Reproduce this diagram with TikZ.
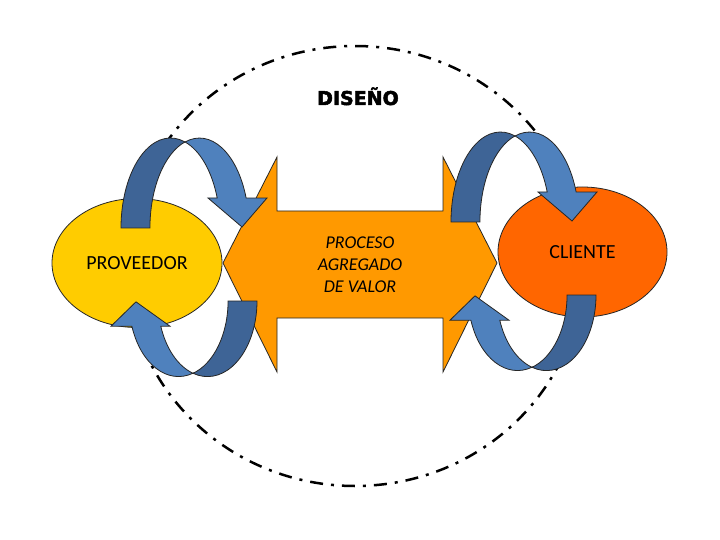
\documentclass[tikz,border=0pt]{standalone}
\usepackage{fontspec}
\setmainfont{Carlito}
\newfontfamily\titlefont{DejaVu Sans}[BoldFeatures={FakeBold=2.5}]
\usetikzlibrary{shapes.geometric}
\definecolor{amarillo}{HTML}{FFCC00}
\definecolor{naranja}{HTML}{FF6600}
\definecolor{naranjaclaro}{HTML}{FF9900}
\definecolor{azuloscuro}{HTML}{3E6496}
\definecolor{azulclaro}{HTML}{4F81BD}

\begin{document}
\begin{tikzpicture}[x=1pt,y=-1pt,
  darkband/.style={fill=azuloscuro,draw=black!85,line width=0.8pt},
  lightband/.style={fill=azulclaro,draw=black!85,line width=0.8pt},
  curvarrow/.pic={
    \draw[darkband] (-49.5,0) arc[start angle=180,end angle=287,x radius=49.5,y radius=90]
      arc[start angle=253,end angle=180,x radius=49.5,y radius=90] -- cycle;
    \draw[lightband] (14.5,-86) arc[start angle=253,end angle=340.5,x radius=49.5,y radius=90]
      -- (96.5,-30) -- (71.5,-1) -- (37.5,-30) -- (46.7,-30)
      arc[start angle=340.5,end angle=287,x radius=49.5,y radius=90] -- cycle;
  }]
\useasboundingbox (0,0) rectangle (720,540);
\fill[white] (0,0) rectangle (720,540);
% design boundary
\draw[line width=2.5pt,dash pattern=on 13pt off 8pt on 3pt off 8pt] (355,266) ellipse[x radius=228,y radius=220];
\node[font=\titlefont\bfseries\fontsize{19}{23}\selectfont,anchor=base] (diseno) at (358,105) {DISEÑO};

% value-added process
\draw[fill=naranjaclaro,draw=black!85,line width=0.8pt] (223,263) -- (277,157) -- (277,211) -- (443,211) -- (443,157) -- (497,263)
  -- (443,372) -- (443,318) -- (277,318) -- (277,372) -- cycle;
\node[font=\itshape\fontsize{18}{22}\selectfont,align=center] (proceso) at (360,265) {PROCESO\\AGREGADO\\DE VALOR};

% supplier and customer
\node[ellipse,fill=amarillo,draw=black!85,line width=0.8pt,minimum width=170,minimum height=129,
  font=\fontsize{20}{24}\selectfont] (proveedor) at (137,263) {PROVEEDOR};
\node[ellipse,fill=naranja,draw=black!85,line width=0.8pt,minimum width=169,minimum height=130,
  font=\fontsize{20}{24}\selectfont] (cliente) at (582.5,252) {CLIENTE};

% feedback loops
\pic at (170.5,228) {curvarrow};
\pic at (500.5,222) {curvarrow};
\pic[xscale=-1,yscale=-0.84] at (207.5,301) {curvarrow};
\pic[xscale=-1,yscale=-0.84] at (546.5,295) {curvarrow};
\end{tikzpicture}
\end{document}
